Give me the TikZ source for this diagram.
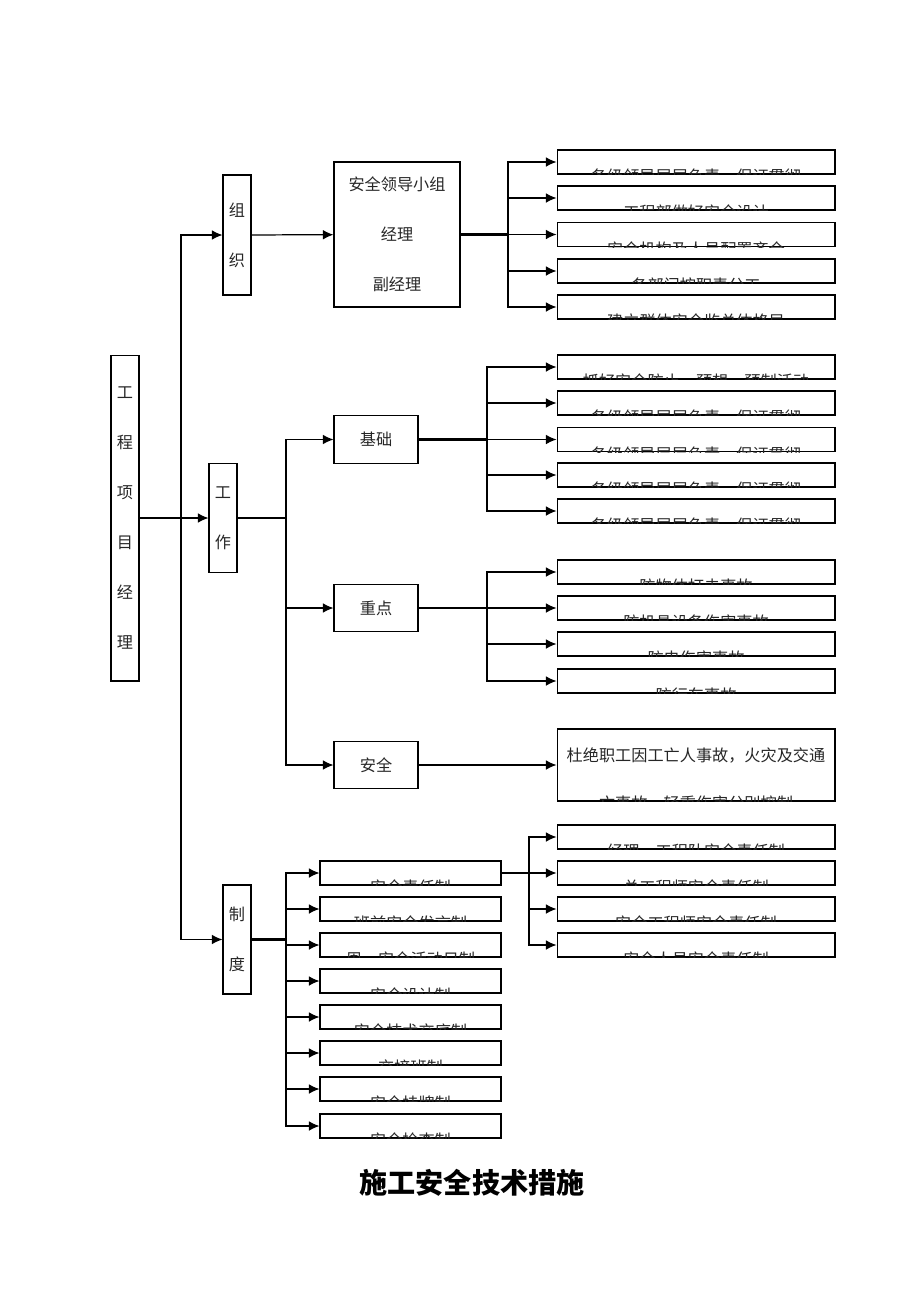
\documentclass[tikz,border=0pt]{standalone}
\usepackage{fontspec}
\setmainfont{Noto Sans CJK SC}
\usetikzlibrary{positioning,arrows.meta,calc}

\tikzset{
  box/.style={draw, line width=0.6pt, inner sep=0},
  vbox/.style={box, minimum width=0.56cm, align=center, font=\fontsize{9.2pt}{1cm}\selectfont},
  mid/.style={box, minimum width=1.68cm, minimum height=0.95cm},
  leaf/.style={box, minimum width=5.56cm, minimum height=0.48cm},
  rulebox/.style={box, minimum width=3.62cm, minimum height=0.48cm},
  cut/.style={anchor=north, inner sep=0},
  arr/.style={-{Latex[length=6pt,width=5.5pt]}, line width=0.7pt},
  thk/.style={line width=1.3pt},
}

\begin{document}
\begin{tikzpicture}[x=0.02cm, y=-0.02cm, font=\fontsize{9.2pt}{11pt}\selectfont, every node/.style={text=black!85}]
\useasboundingbox (0,0) rectangle (920,1302);

% left column
\node[vbox, minimum height=6.52cm] (pm) at (125,518) {工\\程\\项\\目\\经\\理};
\node[vbox, minimum height=2.4cm] (zz) at (237,235) {组\\织};
\node[vbox, minimum height=2.18cm] (gz) at (223,518) {工\\作};
\node[vbox, minimum height=2.18cm] (zd) at (237,939.5) {制\\度};

% middle column
\node[box, minimum width=2.52cm, minimum height=2.9cm, align=center, font=\fontsize{9.2pt}{1cm}\selectfont] (ld) at (397,234.5) {安全领导小组\\经理\\副经理};
\node[mid] (jc) at (376,439.5) {基础};
\node[mid] (zp) at (376,608) {重点};
\node[mid] (aq) at (376,765) {安全};

\node[box, minimum width=5.56cm, minimum height=1.44cm] (aqr) at (696,765) {};
\node (aqr1) at (696,755) {杜绝职工因工亡人事故，火灾及交通};
\begin{scope}
  \clip (aqr.south west) rectangle (aqr.north east);
  \node[cut] (aqr2) at ([yshift=0.12cm]aqr.south) {亡事故，轻重伤害分别控制};
\end{scope}

% trunks
\coordinate (t0) at (181,518);
\coordinate (t1) at (508,234.5);
\coordinate (t2) at (487,439.5);
\coordinate (t3) at (487,608);
\coordinate (t4) at (286,518);
\coordinate (t5) at (286,939.5);
\coordinate (t6) at (529,873);

% rules under zhidu
\foreach \n/\y/\s in {r1/873/安全责任制, r2/909/班前安全发言制, r3/945/周一安全活动日制,
    r4/981/安全设计制, r5/1017/安全技术交底制, r6/1053/交接班制, r7/1089/安全挂牌制, r8/1126/安全检查制}{
  \node[rulebox] (\n) at (410.5,\y) {};
  \begin{scope}
    \clip (\n.south west) rectangle (\n.north east);
    \node[cut] at ([yshift=0.12cm]\n.south) {\s};
  \end{scope}
  \draw[arr] (t5) |- (\n);
}

% right leaves
\foreach \n/\y/\tr/\s in {a1/162/t1/各级领导层层负责，保证贯彻, a2/198/t1/工程部做好安全设计,
    a3/234.5/t1/安全机构及人员配置齐全, a4/271/t1/各部门按职责分工, a5/307/t1/建立群体安全监总体格局,
    b1/367/t2/抓好安全防止，预想，预制活动, b2/403/t2/各级领导层层负责，保证贯彻,
    b3/439.5/t2/各级领导层层负责，保证贯彻, b4/475/t2/各级领导层层负责，保证贯彻, b5/511/t2/各级领导层层负责，保证贯彻,
    c1/572/t3/防物体打击事故, c2/608/t3/防机具设备伤害事故, c3/644/t3/防电伤害事故, c4/681/t3/防行车事故,
    d1/837/t6/经理、工程队安全责任制, d2/873/t6/总工程师安全责任制, d3/909/t6/安全工程师安全责任制, d4/945/t6/安全人员安全责任制}{
  \node[leaf] (\n) at (696,\y) {};
  \begin{scope}
    \clip (\n.south west) rectangle (\n.north east);
    \node[cut] at ([yshift=0.12cm]\n.south) {\s};
  \end{scope}
  \draw[arr] (\tr) |- (\n);
}

% connectors
\draw[thk] (pm) -- (t0);
\draw[arr] (t0) |- (zz);
\draw[arr] (t0) |- (gz);
\draw[arr] (t0) |- (zd);
\draw[arr] (zz) -- (ld);
\draw[thk] (ld) -- (t1);
\draw[thk] (gz) -- (t4);
\draw[arr] (t4) |- (jc);
\draw[arr] (t4) |- (zp);
\draw[arr] (t4) |- (aq);
\draw[thk] (jc) -- (t2);
\draw[thk] (zp) -- (t3);
\draw[arr] (aq) -- (aqr);
\draw[thk] (zd) -- (t5);
\draw[thk] (r1) -- (t6);

\node[font=\fontsize{16pt}{19pt}\selectfont\bfseries, text=black] (title) at (472,1183) {施工安全技术措施};
\end{tikzpicture}
\end{document}
